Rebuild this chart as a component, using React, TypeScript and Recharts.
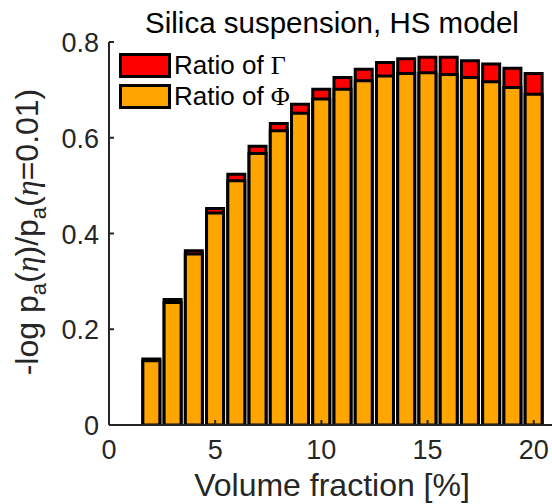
import React from 'react';
import { BarChart, Bar, XAxis, YAxis, Legend } from 'recharts';

const volumeFraction = [2, 3, 4, 5, 6, 7, 8, 9, 10, 11, 12, 13, 14, 15, 16, 17, 18, 19, 20];
const gammaRatio = [0.138, 0.262, 0.364, 0.452, 0.524, 0.582, 0.63, 0.67, 0.7015, 0.726, 0.743, 0.757, 0.765, 0.768, 0.768, 0.761, 0.754, 0.745, 0.734];
const phiRatio = [0.134, 0.256, 0.357, 0.443, 0.51, 0.567, 0.6145, 0.651, 0.681, 0.7015, 0.719, 0.729, 0.734, 0.736, 0.732, 0.726, 0.717, 0.705, 0.691];
const xTicks = [0, 5, 10, 15, 20];
const yTicks = [0, 0.2, 0.4, 0.6, 0.8];
const yTickLabels = ['0', '0.2', '0.4', '0.6', '0.8'];
const seriesNames = ['Ratio of \u0393', 'Ratio of \u03A6'];
const titleText = 'Silica suspension, HS model';
const xLabelText = 'Volume fraction [%]';

const data = volumeFraction.map((x, i) => ({ x, gamma: gammaRatio[i], phi: phiRatio[i] }));

const FONT = '"Liberation Sans", Arial, Helvetica, sans-serif';
const SERIF = '"Liberation Serif", "Times New Roman", serif';
const INK = '#262626';
const TICK_LEN = 5;

const BottomTick = (props: any) => {
  const { x, y, payload } = props;
  return (
    <g>
      <line x1={x} x2={x} y1={y} y2={y - TICK_LEN} stroke={INK} strokeWidth={2} />
      <text x={x} y={y + 34} textAnchor="middle" fontSize={27} fontFamily={FONT} fill={INK}>
        {payload.value}
      </text>
    </g>
  );
};

const TopTick = (props: any) => {
  const { x, y } = props;
  return <line x1={x} x2={x} y1={y} y2={y + TICK_LEN} stroke={INK} strokeWidth={2} />;
};

const LeftTick = (props: any) => {
  const { x, y, payload } = props;
  const idx = yTicks.indexOf(payload.value);
  return (
    <g>
      <line x1={x} x2={x + TICK_LEN} y1={y} y2={y} stroke={INK} strokeWidth={2} />
      <text x={x - 10} y={y + 10} textAnchor="end" fontSize={27} fontFamily={FONT} fill={INK}>
        {idx >= 0 ? yTickLabels[idx] : payload.value}
      </text>
    </g>
  );
};

const RightTick = (props: any) => {
  const { x, y } = props;
  return <line x1={x} x2={x - TICK_LEN} y1={y} y2={y} stroke={INK} strokeWidth={2} />;
};

const YLabel = () => (
  <text transform="translate(38,232) rotate(-90)" textAnchor="middle" fontSize={32} fontFamily={FONT} fill={INK}>
    <tspan>-log p</tspan>
    <tspan dy={8} fontSize={22}>a</tspan>
    <tspan dy={-8}>(</tspan>
    <tspan fontFamily={SERIF} fontStyle="italic">{'\u03B7'}</tspan>
    <tspan>)/p</tspan>
    <tspan dy={8} fontSize={22}>a</tspan>
    <tspan dy={-8}>(</tspan>
    <tspan fontFamily={SERIF} fontStyle="italic">{'\u03B7'}</tspan>
    <tspan>=0.01)</tspan>
  </text>
);

const XLabel = () => (
  <text x={332} y={496} textAnchor="middle" fontSize={32} fontFamily={FONT} fill={INK}>
    {xLabelText}
  </text>
);

const LegendContent = (props: any) => {
  const { payload } = props;
  return (
    <div style={{ position: 'relative', width: 0, height: 0 }}>
      {(payload || []).map((p: any, i: number) => {
        const v: string = String(p.value);
        return (
          <div
            key={v}
            style={{
              position: 'absolute',
              left: 119,
              top: 53 + 31 * i,
              display: 'flex',
              alignItems: 'center',
              whiteSpace: 'nowrap',
            }}
          >
            <div style={{ width: 46, height: 19, background: p.color, border: '3px solid #000' }} />
            <span style={{ marginLeft: 3, fontSize: 26, fontFamily: FONT, color: '#000', lineHeight: '25px' }}>
              {v.slice(0, -1)}
              <span style={{ fontFamily: SERIF }}>{v.slice(-1)}</span>
            </span>
          </div>
        );
      })}
    </div>
  );
};

export default function App() {
  return (
    <div style={{ position: 'absolute', left: 0, top: 0, width: 552, height: 504, overflow: 'hidden', background: '#fff' }}>
      <svg width={552} height={44} style={{ position: 'absolute', left: 0, top: 0 }}>
        <text x={332} y={33} textAnchor="middle" fontSize={29.5} fontFamily={FONT} fill="#000">
          {titleText}
        </text>
      </svg>
      <div style={{ position: 'absolute', left: 0, top: 0 }}>
        <BarChart
          width={560}
          height={504}
          data={data}
          margin={{ top: 42, right: 5, bottom: 0, left: 0 }}
          barGap={-17}
          barSize={17}
        >
          <XAxis
            dataKey="x"
            type="number"
            domain={[0, 21]}
            ticks={xTicks}
            allowDataOverflow
            height={79}
            tickSize={0}
            tickMargin={0}
            tickLine={false}
            axisLine={{ stroke: INK, strokeWidth: 2 }}
            tick={<BottomTick />}
            interval={0}
            label={<XLabel />}
          />
          <XAxis
            xAxisId="top"
            orientation="top"
            type="number"
            domain={[0, 21]}
            ticks={xTicks}
            allowDataOverflow
            height={0}
            tickSize={0}
            tickMargin={0}
            tickLine={false}
            axisLine={{ stroke: INK, strokeWidth: 2 }}
            tick={<TopTick />}
            interval={0}
          />
          <YAxis
            type="number"
            domain={[0, 0.8]}
            ticks={yTicks}
            allowDataOverflow
            width={109}
            tickSize={0}
            tickMargin={0}
            tickLine={false}
            axisLine={{ stroke: INK, strokeWidth: 2 }}
            tick={<LeftTick />}
            interval={0}
            label={<YLabel />}
          />
          <YAxis
            yAxisId="right"
            orientation="right"
            type="number"
            domain={[0, 0.8]}
            ticks={yTicks}
            allowDataOverflow
            width={0}
            tickSize={0}
            tickMargin={0}
            tickLine={false}
            axisLine={{ stroke: INK, strokeWidth: 2 }}
            tick={<RightTick />}
            interval={0}
          />
          <Legend
            layout="vertical"
            align="center"
            verticalAlign="middle"
            content={<LegendContent />}
            wrapperStyle={{ position: 'absolute', left: 0, top: 0, width: 0, height: 0 }}
          />
          <Bar dataKey="gamma" name={seriesNames[0]} fill="#FF0000" stroke="#000" strokeWidth={3} isAnimationActive={false} />
          <Bar dataKey="phi" name={seriesNames[1]} fill="#FFA500" stroke="#000" strokeWidth={3} isAnimationActive={false} />
        </BarChart>
      </div>
    </div>
  );
}
